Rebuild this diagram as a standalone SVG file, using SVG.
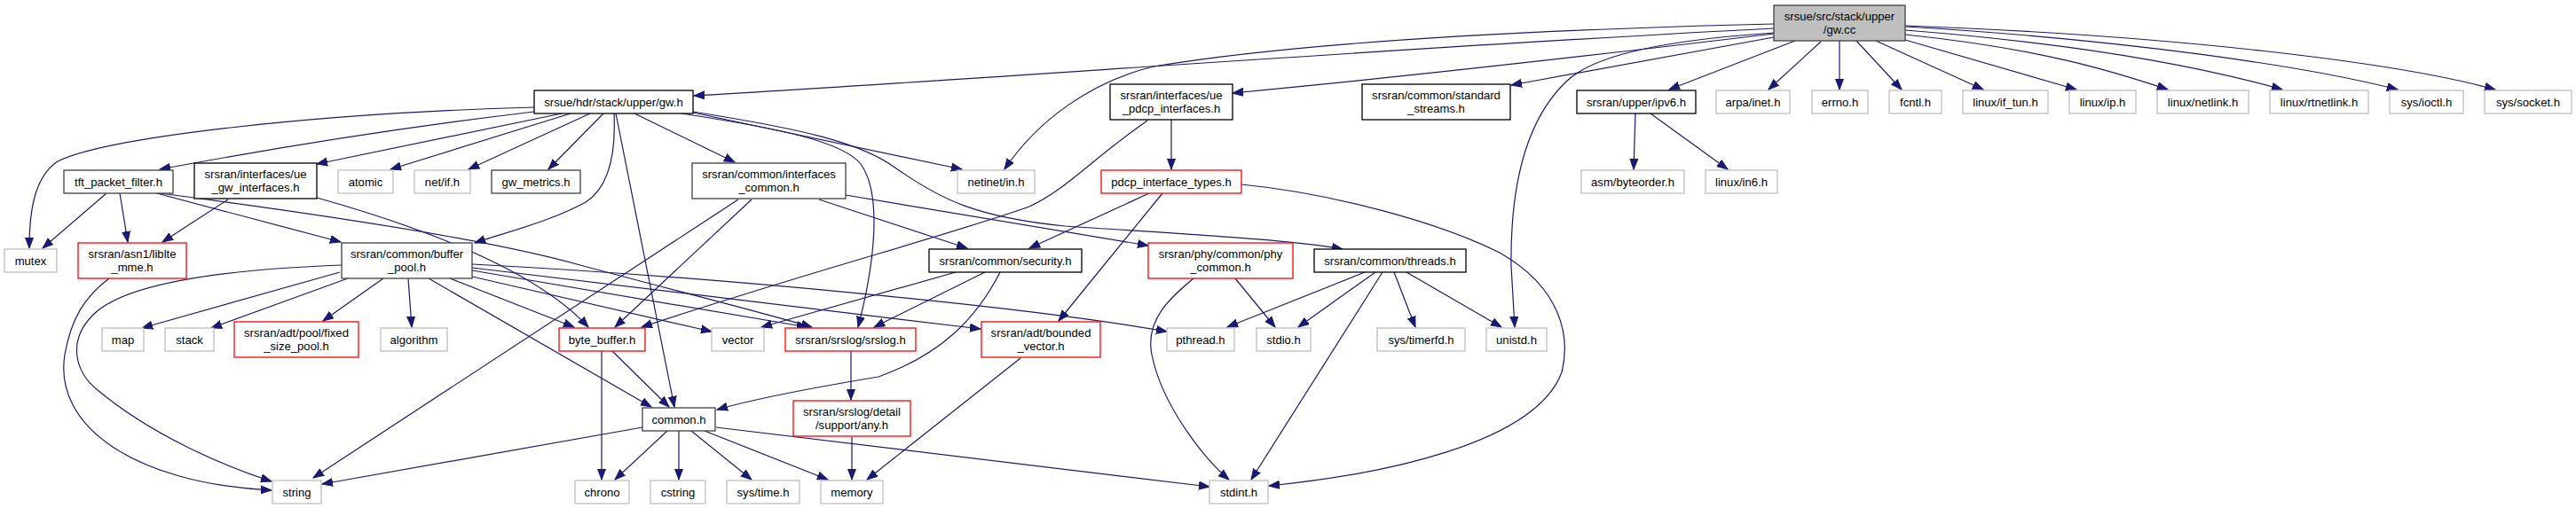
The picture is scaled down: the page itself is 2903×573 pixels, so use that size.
<svg xmlns="http://www.w3.org/2000/svg" width="2903" height="573" viewBox="0 0 2903 573">
<style>
rect{fill:#ffffff;stroke-width:1.3}
.k{stroke:#000000}
.d{stroke:#404040}
.g{stroke:#bfbfbf}
.r{stroke:#ff0000}
.root{fill:#bfbfbf;stroke:#404040}
text{font-family:"Liberation Sans",Arial,sans-serif;font-size:13.1px;fill:#000000;text-anchor:middle}
#edges path{fill:none;stroke:#191970;stroke-width:1.2;marker-end:url(#a)}
</style>
<defs>
<marker id="a" markerUnits="userSpaceOnUse" markerWidth="14" markerHeight="11" refX="12" refY="5" orient="auto">
<path d="M0,0.5 L12,5 L0,9.5 Z" fill="#191970" stroke="#191970" stroke-width="1"/>
</marker>
</defs>
<rect x="0" y="0" width="2903" height="573" style="fill:#ffffff;stroke:none"/>
<g id="edges">
<path d="M1999,32 C1600,52 1100,90 782,108"/>
<path d="M1999,27 C1750,33 1480,45 1300,75 C1230,92 1170,135 1132,191"/>
<path d="M1999,38 C1800,62 1600,85 1389,105"/>
<path d="M1999,42 L1703,96"/>
<path d="M1999,37 C1850,47 1790,68 1765,92 C1715,140 1702,220 1703,300 L1707,369"/>
<path d="M2023,46 L1881,101"/>
<path d="M2052,47 L1993,101"/>
<path d="M2073,46 L2073,101"/>
<path d="M2092,46 L2143,101"/>
<path d="M2114,46 L2235,101"/>
<path d="M2147,45 L2340,101"/>
<path d="M2147,39 C2300,55 2380,80 2443,101"/>
<path d="M2147,34 C2350,50 2480,75 2572,101"/>
<path d="M2147,30 C2400,45 2600,75 2702,101"/>
<path d="M2147,29 C2450,40 2700,70 2812,101"/>
<path d="M602,121 C350,128 120,155 65,182 C38,200 33,240 33,280"/>
<path d="M602,126 Q400,150 180,191"/>
<path d="M633,128 Q500,155 357,185"/>
<path d="M643,128 L440,191"/>
<path d="M665,128 L528,191"/>
<path d="M680,128 L618,191"/>
<path d="M692,128 C694,170 688,210 660,228 C620,250 570,262 535,274"/>
<path d="M694,128 L760,459"/>
<path d="M715,128 L828,183"/>
<path d="M768,128 C880,145 950,160 970,185 C995,220 985,300 967,369"/>
<path d="M781,126 C900,145 970,160 1010,190 C1060,225 1100,245 1200,255 C1350,265 1450,270 1513,281"/>
<path d="M781,127 L1084,191"/>
<path d="M1320,135 L1320,191"/>
<path d="M1293,136 C1230,180 1200,215 1160,233 C1080,262 900,310 723,369"/>
<path d="M1295,218 L1160,280"/>
<path d="M1310,218 L1193,362"/>
<path d="M1399,208 C1500,218 1620,250 1690,285 C1760,325 1770,380 1760,420 C1730,500 1560,535 1430,548"/>
<path d="M953,220 L1294,277"/>
<path d="M923,225 L1090,280"/>
<path d="M832,225 L353,539"/>
<path d="M847,225 L693,369"/>
<path d="M257,225 L183,273"/>
<path d="M357,223 C460,252 600,300 663,369"/>
<path d="M120,218 L48,280"/>
<path d="M135,218 L144,273"/>
<path d="M173,217 L384,273"/>
<path d="M173,217 C350,240 550,270 650,298 C750,325 850,350 915,369"/>
<path d="M123,314 C95,335 80,360 73,400 C60,480 150,545 306,553"/>
<path d="M385,299 C250,304 140,320 105,355 C75,385 85,420 110,440 C170,490 250,525 306,543"/>
<path d="M383,307 L160,370"/>
<path d="M392,314 L238,370"/>
<path d="M432,314 L364,362"/>
<path d="M460,314 L464,369"/>
<path d="M483,314 L734,459"/>
<path d="M507,314 L647,369"/>
<path d="M532,312 L802,374"/>
<path d="M532,305 L910,369"/>
<path d="M532,302 L1105,371"/>
<path d="M532,298 C800,312 1150,345 1315,374"/>
<path d="M1077,307 L858,369"/>
<path d="M1110,307 L985,369"/>
<path d="M1127,307 C1100,360 1060,400 990,425 C900,440 850,450 808,462"/>
<path d="M1345,314 C1320,335 1290,360 1298,400 C1310,460 1360,520 1385,541"/>
<path d="M1392,314 L1437,369"/>
<path d="M1538,307 L1383,369"/>
<path d="M1550,307 L1463,369"/>
<path d="M1558,307 L1410,541"/>
<path d="M1571,307 L1595,369"/>
<path d="M1585,307 L1692,369"/>
<path d="M678,396 L678,541"/>
<path d="M690,396 L754,459"/>
<path d="M724,482 L363,546"/>
<path d="M752,486 L693,541"/>
<path d="M765,486 L765,541"/>
<path d="M779,486 L847,541"/>
<path d="M794,486 L933,541"/>
<path d="M807,482 L1363,549"/>
<path d="M959,396 L959,451"/>
<path d="M960,493 L960,541"/>
<path d="M1150,404 L977,541"/>
<path d="M1843,128 L1841,191"/>
<path d="M1860,128 L1947,191"/>
</g>
<g id="n_gwcc"><rect class="root" x="1999" y="6" width="148" height="40"/><text x="2073" y="22.7">srsue/src/stack/upper</text><text x="2073" y="37.7">/gw.cc</text></g>
<g id="n_gwh"><rect class="k" x="602" y="102" width="179" height="26"/><text x="691.5" y="119.5">srsue/hdr/stack/upper/gw.h</text></g>
<g id="n_ue_pdcp"><rect class="k" x="1251" y="95" width="138" height="40"/><text x="1320" y="111.7">srsran/interfaces/ue</text><text x="1320" y="126.7">_pdcp_interfaces.h</text></g>
<g id="n_std_streams"><rect class="k" x="1535" y="95" width="167" height="40"/><text x="1618.5" y="111.7">srsran/common/standard</text><text x="1618.5" y="126.7">_streams.h</text></g>
<g id="n_ipv6"><rect class="k" x="1777" y="102" width="134" height="26"/><text x="1844" y="119.5">srsran/upper/ipv6.h</text></g>
<g id="n_arpa"><rect class="g" x="1934" y="102" width="83" height="26"/><text x="1975.5" y="119.5">arpa/inet.h</text></g>
<g id="n_errno"><rect class="g" x="2042" y="102" width="63" height="26"/><text x="2073.5" y="119.5">errno.h</text></g>
<g id="n_fcntl"><rect class="g" x="2129" y="102" width="59" height="26"/><text x="2158.5" y="119.5">fcntl.h</text></g>
<g id="n_if_tun"><rect class="g" x="2212" y="102" width="96" height="26"/><text x="2260" y="119.5">linux/if_tun.h</text></g>
<g id="n_linux_ip"><rect class="g" x="2332" y="102" width="75" height="26"/><text x="2369.5" y="119.5">linux/ip.h</text></g>
<g id="n_netlink"><rect class="g" x="2431" y="102" width="103" height="26"/><text x="2482.5" y="119.5">linux/netlink.h</text></g>
<g id="n_rtnetlink"><rect class="g" x="2558" y="102" width="111" height="26"/><text x="2613.5" y="119.5">linux/rtnetlink.h</text></g>
<g id="n_ioctl"><rect class="g" x="2693" y="102" width="83" height="26"/><text x="2734.5" y="119.5">sys/ioctl.h</text></g>
<g id="n_socket"><rect class="g" x="2800" y="102" width="98" height="26"/><text x="2849" y="119.5">sys/socket.h</text></g>
<g id="n_tft"><rect class="d" x="72" y="192" width="123" height="26"/><text x="133.5" y="209.5">tft_packet_filter.h</text></g>
<g id="n_ue_gw"><rect class="k" x="219" y="184" width="138" height="40"/><text x="288" y="200.7">srsran/interfaces/ue</text><text x="288" y="215.7">_gw_interfaces.h</text></g>
<g id="n_atomic"><rect class="g" x="381" y="192" width="62" height="26"/><text x="412" y="209.5">atomic</text></g>
<g id="n_netif"><rect class="g" x="467" y="192" width="63" height="26"/><text x="498.5" y="209.5">net/if.h</text></g>
<g id="n_gw_metrics"><rect class="d" x="554" y="192" width="100" height="26"/><text x="604" y="209.5">gw_metrics.h</text></g>
<g id="n_if_common"><rect class="d" x="780" y="184" width="173" height="40"/><text x="866.5" y="200.7">srsran/common/interfaces</text><text x="866.5" y="215.7">_common.h</text></g>
<g id="n_netinet"><rect class="g" x="1079" y="192" width="87" height="26"/><text x="1122.5" y="209.5">netinet/in.h</text></g>
<g id="n_pdcp_types"><rect class="r" x="1241" y="192" width="158" height="26"/><text x="1320" y="209.5">pdcp_interface_types.h</text></g>
<g id="n_asm"><rect class="g" x="1782" y="192" width="116" height="26"/><text x="1840" y="209.5">asm/byteorder.h</text></g>
<g id="n_in6"><rect class="g" x="1922" y="192" width="81" height="26"/><text x="1962.5" y="209.5">linux/in6.h</text></g>
<g id="n_mutex"><rect class="g" x="5" y="281" width="59" height="26"/><text x="34.5" y="298.5">mutex</text></g>
<g id="n_liblte"><rect class="r" x="88" y="274" width="122" height="40"/><text x="149" y="290.7">srsran/asn1/liblte</text><text x="149" y="305.7">_mme.h</text></g>
<g id="n_buffer_pool"><rect class="d" x="385" y="274" width="147" height="40"/><text x="458.5" y="290.7">srsran/common/buffer</text><text x="458.5" y="305.7">_pool.h</text></g>
<g id="n_security"><rect class="k" x="1047" y="281" width="172" height="26"/><text x="1133" y="298.5">srsran/common/security.h</text></g>
<g id="n_phy_common"><rect class="r" x="1294" y="274" width="163" height="40"/><text x="1375.5" y="290.7">srsran/phy/common/phy</text><text x="1375.5" y="305.7">_common.h</text></g>
<g id="n_threads"><rect class="k" x="1481" y="281" width="171" height="26"/><text x="1566.5" y="298.5">srsran/common/threads.h</text></g>
<g id="n_map"><rect class="g" x="115" y="370" width="47" height="26"/><text x="138.5" y="387.5">map</text></g>
<g id="n_stack"><rect class="g" x="186" y="370" width="55" height="26"/><text x="213.5" y="387.5">stack</text></g>
<g id="n_fixed_pool"><rect class="r" x="264" y="363" width="140" height="40"/><text x="334" y="379.7">srsran/adt/pool/fixed</text><text x="334" y="394.7">_size_pool.h</text></g>
<g id="n_algorithm"><rect class="g" x="429" y="370" width="75" height="26"/><text x="466.5" y="387.5">algorithm</text></g>
<g id="n_byte_buffer"><rect class="r" x="630" y="370" width="97" height="26"/><text x="678.5" y="387.5">byte_buffer.h</text></g>
<g id="n_vector"><rect class="g" x="802" y="370" width="59" height="26"/><text x="831.5" y="387.5">vector</text></g>
<g id="n_srslog"><rect class="r" x="885" y="370" width="147" height="26"/><text x="958.5" y="387.5">srsran/srslog/srslog.h</text></g>
<g id="n_bounded"><rect class="r" x="1106" y="363" width="134" height="40"/><text x="1173" y="379.7">srsran/adt/bounded</text><text x="1173" y="394.7">_vector.h</text></g>
<g id="n_pthread"><rect class="g" x="1315" y="370" width="76" height="26"/><text x="1353" y="387.5">pthread.h</text></g>
<g id="n_stdio"><rect class="g" x="1416" y="370" width="61" height="26"/><text x="1446.5" y="387.5">stdio.h</text></g>
<g id="n_timerfd"><rect class="g" x="1552" y="370" width="99" height="26"/><text x="1601.5" y="387.5">sys/timerfd.h</text></g>
<g id="n_unistd"><rect class="g" x="1675" y="370" width="68" height="26"/><text x="1709" y="387.5">unistd.h</text></g>
<g id="n_common_h"><rect class="d" x="724" y="460" width="82" height="26"/><text x="765" y="477.5">common.h</text></g>
<g id="n_any"><rect class="r" x="894" y="452" width="132" height="40"/><text x="960" y="468.7">srsran/srslog/detail</text><text x="960" y="483.7">/support/any.h</text></g>
<g id="n_string"><rect class="g" x="307" y="542" width="55" height="26"/><text x="334.5" y="559.5">string</text></g>
<g id="n_chrono"><rect class="g" x="648" y="542" width="61" height="26"/><text x="678.5" y="559.5">chrono</text></g>
<g id="n_cstring"><rect class="g" x="733" y="542" width="62" height="26"/><text x="764" y="559.5">cstring</text></g>
<g id="n_systime"><rect class="g" x="819" y="542" width="82" height="26"/><text x="860" y="559.5">sys/time.h</text></g>
<g id="n_memory"><rect class="g" x="925" y="542" width="70" height="26"/><text x="960" y="559.5">memory</text></g>
<g id="n_stdint"><rect class="g" x="1363" y="542" width="66" height="26"/><text x="1396" y="559.5">stdint.h</text></g>
</svg>
